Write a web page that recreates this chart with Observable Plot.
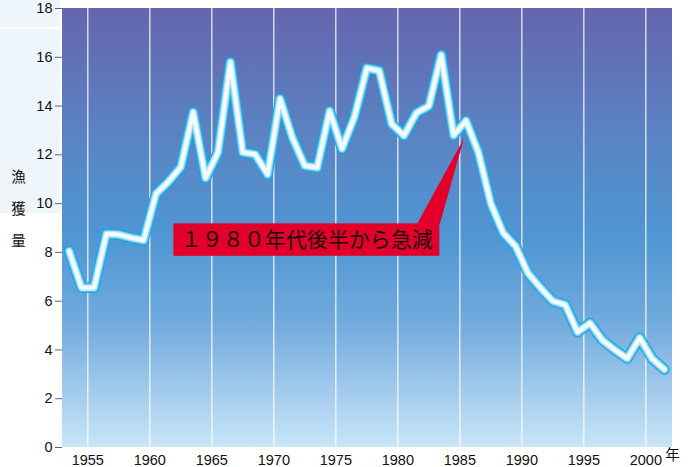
<!DOCTYPE html>
<html><head><meta charset="utf-8">
<script src="https://cdn.jsdelivr.net/npm/d3@7"></script>
<script src="https://cdn.jsdelivr.net/npm/@observablehq/plot@0.6"></script>
<style>
body{margin:0;background:#fff;}
#wrap{position:relative;width:692px;height:467px;}
#panel{position:absolute;left:0;top:0;width:60px;height:213px;background:#eef5fb;}
#panelLine{position:absolute;left:0;top:27px;width:60px;height:2px;background:#fff;}
#chart{position:absolute;left:0;top:0;}
</style></head><body>
<div id="wrap"><div id="panel"></div><div id="panelLine"></div><div id="chart"></div></div>
<script>
const years = [1953,1954,1955,1956,1957,1958,1959,1960,1961,1962,1963,1964,1965,1966,1967,1968,1969,1970,1971,1972,1973,1974,1975,1976,1977,1978,1979,1980,1981,1982,1983,1984,1985,1986,1987,1988,1989,1990,1991,1992,1993,1994,1995,1996,1997,1998,1999,2000,2001];
const catchValues = [8.05,6.55,6.55,8.75,8.73,8.6,8.5,10.4,10.9,11.5,13.75,11.05,12.1,15.8,12.1,12.02,11.2,14.3,12.7,11.55,11.48,13.8,12.25,13.55,15.55,15.45,13.27,12.79,13.72,14.0,16.1,12.8,13.4,12.1,10.0,8.8,8.25,7.15,6.55,6.0,5.85,4.73,5.1,4.4,4.0,3.65,4.5,3.65,3.2];
const xTicks = [1955,1960,1965,1970,1975,1980,1985,1990,1995,2000];
const yTicks = [0,2,4,6,8,10,12,14,16,18];
const yLabel = "漁\n獲\n量";
const unitLabel = "年";
const noteText = "１９８０年代後半から急減";
const noteBox = [{x1: 1961.94, x2: 1983.39, y1: 7.84, y2: 9.17}];
const notePointer = [{x: 1981.56, y: 9.17}, {x: 1983.39, y: 9.17}, {x: 1985.32, y: 12.66}];

const data = years.map((year, i) => ({year, value: catchValues[i]}));
const midYear = d => d.year + 0.5;
const noteLabel = noteBox.map(b => ({x: (b.x1 + b.x2) / 2, y: (b.y1 + b.y2) / 2, text: noteText}));

const bg = (index, scales, values, dims) => {
  const ns = "http://www.w3.org/2000/svg";
  const g = document.createElementNS(ns, "g");
  const w = dims.width - dims.marginLeft - dims.marginRight;
  const h = dims.height - dims.marginTop - dims.marginBottom;
  g.innerHTML = `<defs><linearGradient id="bgGrad" x1="0" y1="0" x2="0" y2="1">
    <stop offset="0" stop-color="#6466ae"/>
    <stop offset="0.3" stop-color="#5a84c4"/>
    <stop offset="0.52" stop-color="#4f96d3"/>
    <stop offset="0.72" stop-color="#72abdd"/>
    <stop offset="0.87" stop-color="#a2caed"/>
    <stop offset="1" stop-color="#c8e5f8"/>
  </linearGradient></defs>
  <rect x="${dims.marginLeft}" y="${dims.marginTop}" width="${w}" height="${h}" fill="url(#bgGrad)"/>`;
  return g;
};

const lineOpts = (stroke, strokeWidth) => ({x: midYear, y: "value", stroke, strokeWidth, strokeLinejoin: "round", strokeLinecap: "round"});

const chart = Plot.plot({
  width: 692,
  height: 467,
  marginLeft: 62,
  marginRight: 20,
  marginTop: 8,
  marginBottom: 20,
  style: {background: "transparent", fontFamily: "'Liberation Sans', Arial, 'Noto Sans CJK JP', sans-serif", color: "#111"},
  x: {domain: [1952.96, 2002.15]},
  y: {domain: [0, 18]},
  marks: [
    bg,
    Plot.ruleX(xTicks, {stroke: "white", strokeWidth: 1.3, strokeOpacity: 0.85}),
    Plot.axisY(yTicks, {tickSize: 7, tickPadding: 3, stroke: "#6b54a3", fill: "#111", fontSize: 14.5, label: null}),
    Plot.axisX(xTicks, {tickSize: 0, tickPadding: 7, fill: "#111", fontSize: 14.5, tickFormat: d => String(d), label: null}),
    Plot.text([unitLabel], {frameAnchor: "bottom-right", textAnchor: "middle", dy: 12, fontSize: 14.5, fill: "#111"}),
    Plot.text([yLabel], {frameAnchor: "left", y: [10], dx: -44, textAnchor: "middle", lineHeight: 2.2, fontSize: 14.5, fill: "#111", fontFamily: "'Noto Sans CJK JP', sans-serif"}),
    Plot.line(notePointer, {x: "x", y: "y", fill: "#e2002a", stroke: "none"}),
    Plot.line(data, lineOpts("#14a5e0", 10.5)),
    Plot.line(data, lineOpts("#5cc4ee", 8.5)),
    Plot.line(data, lineOpts("#b0e4f8", 6.5)),
    Plot.line(data, lineOpts("#f4fbff", 4)),
    Plot.rect(noteBox, {x1: "x1", x2: "x2", y1: "y1", y2: "y2", fill: "#e2002a"}),
    Plot.text(noteLabel, {x: "x", y: "y", text: "text", fontSize: 21, fill: "#1a0a10", fontFamily: "'Noto Sans CJK JP', sans-serif"})
  ]
});
document.getElementById("chart").appendChild(chart);
</script>
</body></html>
